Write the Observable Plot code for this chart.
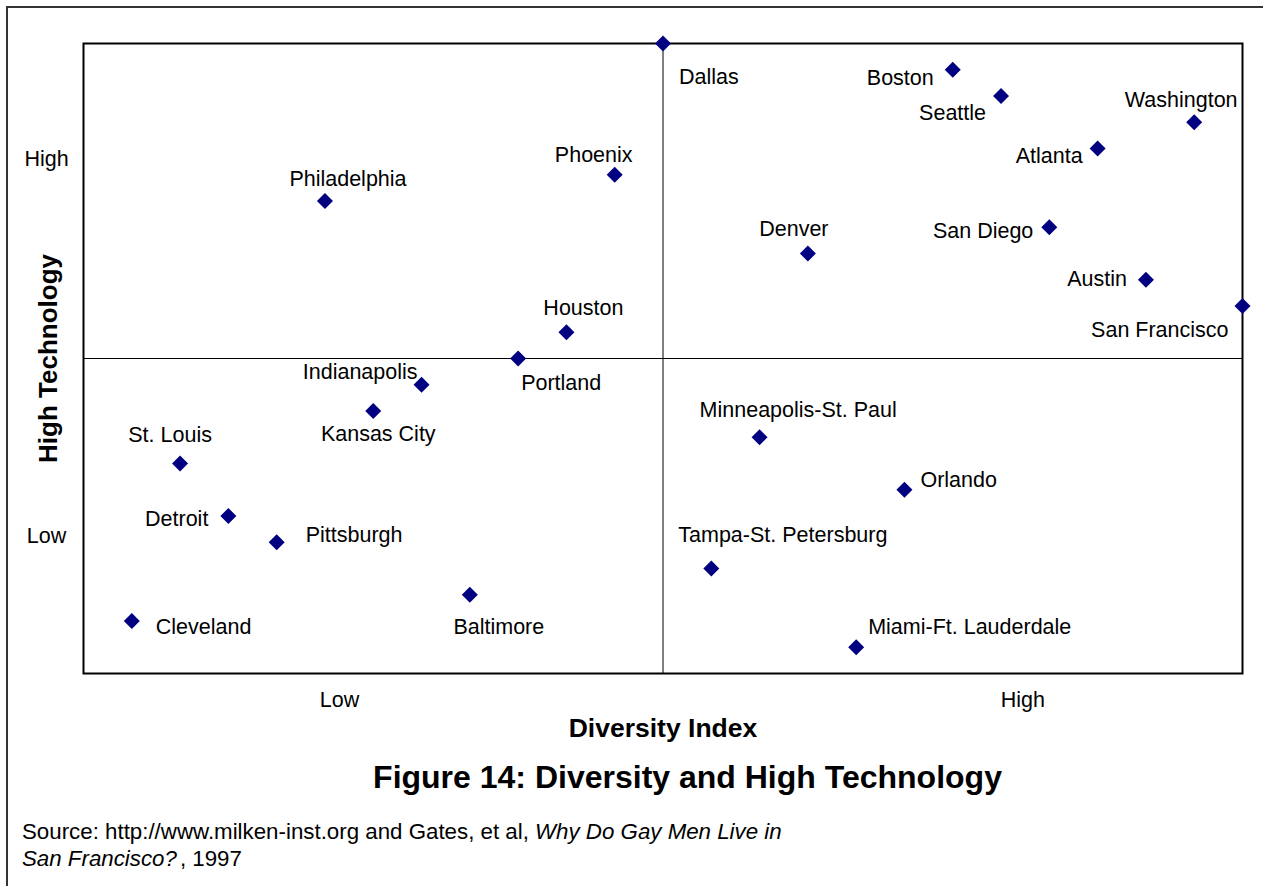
<!DOCTYPE html>
<html>
<head>
<meta charset="utf-8">
<script src="https://cdn.jsdelivr.net/npm/d3@7"></script>
<script src="https://cdn.jsdelivr.net/npm/@observablehq/plot@0.6"></script>
<style>
  html, body { margin: 0; padding: 0; background: #fff; }
  #wrap { position: relative; width: 1263px; height: 886px; overflow: hidden; font-family: "Liberation Sans", Arial, sans-serif; }
  #border { position: absolute; left: 6px; top: 6px; width: 1400px; height: 1000px; border-top: 2px solid #333; border-left: 2px solid #333; }
  #chart { position: absolute; left: 0; top: 0; }
  #title { position: absolute; left: 0; width: 1375px; top: 759px; text-align: center; font-weight: bold; font-size: 32px; line-height: 37px; color: #000; }
  #source { position: absolute; left: 22px; top: 818px; font-size: 22.3px; line-height: 27px; color: #000; white-space: nowrap; }
  #source .yr { margin-left: 3px; }
</style>
</head>
<body>
<div id="wrap">
  <div id="border"></div>
  <div id="chart"></div>
  <div id="title">Figure 14: Diversity and High Technology</div>
  <div id="source">Source: http://www.milken-inst.org and Gates, et al, <i>Why Do Gay Men Live in</i><br><i>San Francisco?</i><span class="yr">, 1997</span></div>
</div>
<script>
// Data: ranks (x = diversity rank, y = high-tech rank)
const cities = ["Cleveland","St. Louis","Detroit","Pittsburgh","Philadelphia","Kansas City","Indianapolis","Baltimore","Portland","Houston","Phoenix","Dallas","Tampa-St. Petersburg","Minneapolis-St. Paul","Denver","Miami-Ft. Lauderdale","Orlando","Boston","Seattle","San Diego","Atlanta","Austin","Washington","San Francisco"];
const diversity = [1,2,3,4,5,6,7,8,9,10,11,12,13,14,15,16,17,18,19,20,21,22,23,24];
const hightech  = [2,8,6,5,18,10,11,3,12,13,19,24,4,9,16,1,7,23,22,17,20,15,21,14];

const xTickValues = [5.3, 19.45];
const xTickLabels = ["Low", "High"];
const yTickValues = [5.25, 19.6];
const yTickLabels = ["Low", "High"];
const xDomain = [0, 24];
const yDomain = [0, 24];
const midX = [12];
const midY = [12];

// Label placement (styling only): anchor, dx, dy per city
const placement = {
  "Dallas": ["start", 16, 34],
  "Boston": ["end", -19, 8],
  "Seattle": ["end", -15, 17],
  "Washington": ["middle", -13, -22],
  "Atlanta": ["end", -15, 8],
  "San Diego": ["end", -16, 4],
  "Austin": ["end", -19, -1],
  "San Francisco": ["end", -14, 24],
  "Phoenix": ["middle", -21, -20],
  "Philadelphia": ["middle", 23, -22],
  "Denver": ["middle", -14, -24],
  "Houston": ["middle", 17, -24],
  "Portland": ["start", 3, 25],
  "Indianapolis": ["end", -4, -13],
  "Kansas City": ["middle", 5, 23],
  "Minneapolis-St. Paul": ["start", -60, -27],
  "St. Louis": ["middle", -10, -28],
  "Orlando": ["start", 16, -10],
  "Detroit": ["end", -20, 3],
  "Pittsburgh": ["start", 29, -7],
  "Tampa-St. Petersburg": ["start", -33, -33],
  "Baltimore": ["middle", 29, 32],
  "Cleveland": ["start", 24, 6],
  "Miami-Ft. Lauderdale": ["start", 12, -20]
};

const data = cities.map((c, i) => ({city: c, x: diversity[i], y: hightech[i]}));
const xTicks = xTickValues.map((v, i) => ({v, label: xTickLabels[i]}));
const yTicks = yTickValues.map((v, i) => ({v, label: yTickLabels[i]}));

const labelMarks = data.map(d => {
  const [anchor, dx, dy] = placement[d.city];
  return Plot.text([d], {x: "x", y: "y", text: "city", textAnchor: anchor, dx, dy, lineAnchor: "middle", fontSize: 21.5, fill: "#000"});
});

const chart = Plot.plot({
  width: 1263,
  height: 760,
  marginLeft: 83,
  marginRight: 21,
  marginTop: 43,
  marginBottom: 87,
  style: {fontFamily: "'Liberation Sans', Arial, sans-serif", background: "transparent", color: "#000", overflow: "visible"},
  x: {domain: xDomain, axis: null},
  y: {domain: yDomain, axis: null},
  marks: [
    Plot.ruleX(midX, {stroke: "#000", strokeWidth: 1}),
    Plot.ruleY(midY, {stroke: "#000", strokeWidth: 1}),
    Plot.frame({stroke: "#000", strokeWidth: 2}),
    Plot.text(xTicks, {x: "v", text: "label", frameAnchor: "bottom", dy: 27, lineAnchor: "middle", fontSize: 21.5, fill: "#000"}),
    Plot.text(yTicks, {y: "v", text: "label", frameAnchor: "left", dx: -37, textAnchor: "middle", lineAnchor: "middle", fontSize: 21.5, fill: "#000"}),
    Plot.text(["Diversity Index"], {frameAnchor: "bottom", dy: 55, lineAnchor: "middle", fontSize: 26.5, fontWeight: "bold", fill: "#000"}),
    Plot.text(["High Technology"], {frameAnchor: "left", dx: -35, rotate: -90, textAnchor: "middle", lineAnchor: "middle", fontSize: 26, fontWeight: "bold", fill: "#000"}),
    Plot.dot(data, {x: "x", y: "y", symbol: "diamond2", r: 7.2, fill: "#000080", stroke: "none", clip: false}),
    ...labelMarks
  ]
});
document.getElementById("chart").appendChild(chart);
</script>
</body>
</html>
